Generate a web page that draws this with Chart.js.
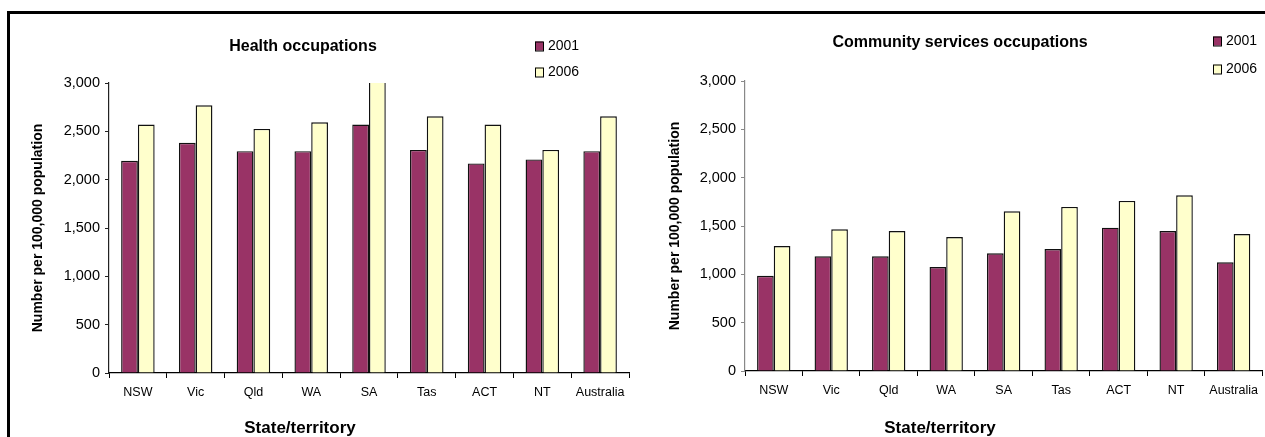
<!DOCTYPE html>
<html>
<head>
<meta charset="utf-8">
<script src="https://cdn.jsdelivr.net/npm/chart.js@4.4.1/dist/chart.umd.min.js"></script>
<style>
  html, body { margin: 0; padding: 0; background: #fff; }
  body { width: 1265px; height: 437px; position: relative; overflow: hidden; font-family: "Liberation Sans", Arial, sans-serif; }
  #frame { position: absolute; left: 7px; top: 11px; width: 1300px; height: 500px; border-top: 3px solid #000; border-left: 3px solid #000; }
  .box { position: absolute; top: 0; height: 437px; }
  #leftBox { left: 0; width: 640px; }
  #rightBox { left: 640px; width: 625px; }
</style>
</head>
<body>
<div id="frame"></div>
<div class="box" id="leftBox"><canvas id="health"></canvas></div>
<div class="box" id="rightBox"><canvas id="community"></canvas></div>
<script>
// States and territories
const categories = ['NSW', 'Vic', 'Qld', 'WA', 'SA', 'Tas', 'ACT', 'NT', 'Australia'];
const seriesNames = ['2001', '2006'];

// Workers per 100,000 population
const health2001 = [2195, 2381, 2295, 2295, 2570, 2308, 2168, 2209, 2295];
const health2006 = [2570, 2770, 2525, 2594, 3020, 2656, 2570, 2308, 2656];
const community2001 = [985, 1187, 1187, 1076, 1218, 1262, 1483, 1448, 1124];
const community2006 = [1293, 1466, 1448, 1386, 1652, 1697, 1759, 1817, 1417];

const yTicks = [0, 500, 1000, 1500, 2000, 2500, 3000];

const COLOR_2001 = '#993366';
const COLOR_2006 = '#FFFFCC';
const FONT = '"Liberation Sans", Arial, sans-serif';

// Headings, legend and axis titles placed around each plot
const decorPlugin = {
  id: 'decor',
  afterDraw(chart, args, opts) {
    const ctx = chart.ctx;
    const area = chart.chartArea;
    ctx.save();
    ctx.fillStyle = '#000';
    // heading
    ctx.font = 'bold 16px ' + FONT;
    ctx.textAlign = 'center';
    ctx.textBaseline = 'middle';
    ctx.fillText(opts.heading, opts.headingX, opts.headingY);
    // x axis title
    ctx.font = 'bold 17px ' + FONT;
    ctx.fillText('State/territory', opts.xTitleX, opts.xTitleY);
    // y axis title
    ctx.save();
    ctx.translate(opts.yTitleX, (area.top + area.bottom) / 2);
    ctx.rotate(-Math.PI / 2);
    ctx.font = 'bold 14px ' + FONT;
    ctx.fillText('Number per 100,000 population', 0, 0);
    ctx.restore();
    // legend
    ctx.font = '14px ' + FONT;
    ctx.textAlign = 'left';
    chart.data.datasets.forEach((ds, i) => {
      const y = opts.legendY + i * opts.legendGap;
      ctx.fillStyle = ds.backgroundColor;
      ctx.fillRect(opts.legendX, y - 4.5, 8, 9);
      ctx.strokeStyle = '#000';
      ctx.lineWidth = 1;
      ctx.strokeRect(opts.legendX + 0.5, y - 4, 8, 9);
      ctx.fillStyle = '#000';
      ctx.fillText(ds.label, opts.legendX + 13, y);
    });
    ctx.restore();
  }
};

function makeChart(id, d2001, d2006, geo) {
  return new Chart(document.getElementById(id), {
    type: 'bar',
    data: {
      labels: categories,
      datasets: [
        { label: seriesNames[0], data: d2001, backgroundColor: COLOR_2001, borderColor: '#111', borderWidth: 1.4 },
        { label: seriesNames[1], data: d2006, backgroundColor: COLOR_2006, borderColor: '#111', borderWidth: 1.4 }
      ]
    },
    options: {
      responsive: true,
      maintainAspectRatio: false,
      animation: false,
      devicePixelRatio: 1,
      layout: { padding: { left: 0, right: geo.padRight, top: geo.top, bottom: 0 } },
      datasets: { bar: { categoryPercentage: 0.58, barPercentage: 1.0 } },
      plugins: {
        legend: { display: false },
        tooltip: { enabled: false },
        decor: geo.decor
      },
      scales: {
        x: {
          offset: true,
          grid: { offset: true, drawOnChartArea: false, drawTicks: true, tickLength: 5, color: '#000' },
          border: { color: '#000', width: 1.2 },
          ticks: { color: '#000', font: { family: FONT, size: 12.5 }, padding: 7, maxRotation: 0, autoSkip: false },
          afterFit(scale) { scale.height = geo.xHeight; }
        },
        y: {
          min: 0,
          max: 3000,
          afterBuildTicks(scale) { scale.ticks = yTicks.map(v => ({ value: v })); },
          grid: { drawOnChartArea: false, drawTicks: true, tickLength: 4, color: geo.yAxisColor },
          border: { color: geo.yAxisColor, width: 1.2 },
          ticks: {
            color: '#000',
            font: { family: FONT, size: 14.5 },
            padding: 5,
            callback: v => v.toLocaleString('en-US')
          },
          afterFit(scale) { scale.width = geo.yWidth; }
        }
      }
    },
    plugins: [decorPlugin]
  });
}

makeChart('health', health2001, health2006, {
  top: 83, padRight: 11, xHeight: 64, yWidth: 109, yAxisColor: '#222',
  decor: { heading: 'Health occupations', headingX: 303, headingY: 47,
           xTitleX: 300, xTitleY: 428, yTitleX: 38,
           legendX: 535, legendY: 46, legendGap: 26 }
});

makeChart('community', community2001, community2006, {
  top: 81, padRight: 1, xHeight: 66, yWidth: 105, yAxisColor: '#888',
  decor: { heading: 'Community services occupations', headingX: 960 - 640, headingY: 43,
           xTitleX: 940 - 640, xTitleY: 428, yTitleX: 675 - 640,
           legendX: 1213 - 640, legendY: 41, legendGap: 28 }
});
</script>
</body>
</html>
